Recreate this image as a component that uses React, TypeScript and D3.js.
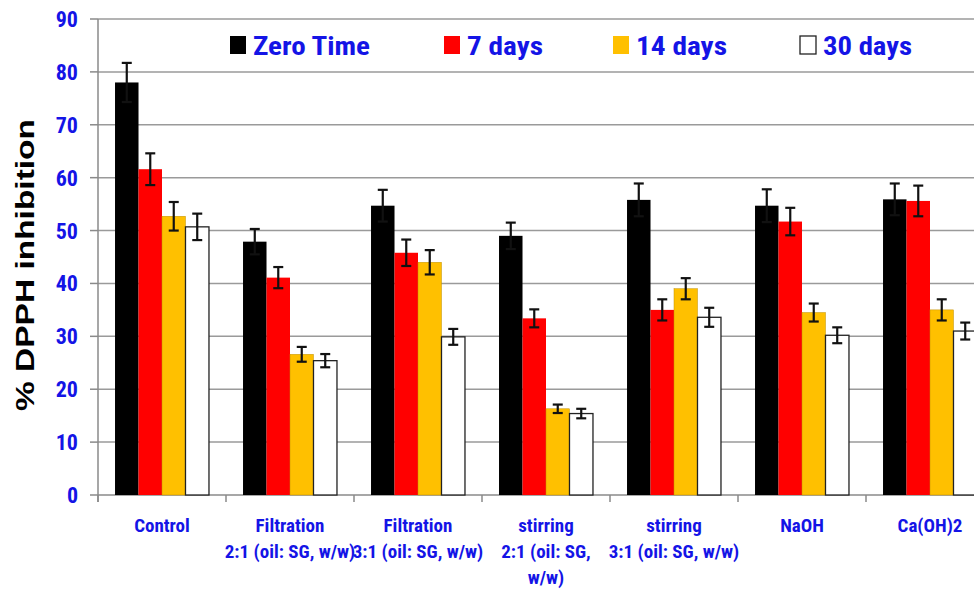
import React from "react";
import * as d3 from "d3";

const categories: string[][] = [
  ["Control"],
  ["Filtration", "2:1 (oil: SG, w/w)"],
  ["Filtration", "3:1 (oil: SG, w/w)"],
  ["stirring", "2:1 (oil: SG,", "w/w)"],
  ["stirring", "3:1 (oil: SG, w/w)"],
  ["NaOH"],
  ["Ca(OH)2"],
];
const seriesNames = ["Zero Time", "7 days", "14 days", "30 days"];
const seriesColors = ["#000000", "#FF0000", "#FFC000", "#FFFFFF"];
const zeroTime = [78, 47.9, 54.7, 49.0, 55.8, 54.7, 55.9];
const zeroTimeErr = [3.7, 2.4, 3.0, 2.5, 3.1, 3.1, 3.0];
const days7 = [61.6, 41.1, 45.8, 33.4, 35.0, 51.7, 55.6];
const days7Err = [3.0, 2.0, 2.5, 1.7, 2.0, 2.6, 2.9];
const days14 = [52.7, 26.6, 44.0, 16.3, 39.0, 34.5, 35.0];
const days14Err = [2.7, 1.4, 2.3, 0.8, 2.0, 1.7, 2.0];
const days30 = [50.7, 25.4, 29.9, 15.4, 33.6, 30.2, 31.0];
const days30Err = [2.5, 1.25, 1.5, 0.9, 1.8, 1.5, 1.6];
const yTicks = [0, 10, 20, 30, 40, 50, 60, 70, 80, 90];

const values = [zeroTime, days7, days14, days30];
const errors = [zeroTimeErr, days7Err, days14Err, days30Err];

const W = 974;
const H = 590;
const narrow = "'Liberation Sans Narrow', 'Arial Narrow', 'Roboto Condensed', 'Liberation Sans', Arial, sans-serif";

export default function App() {
  const left = 98;
  const right = 994;
  const y = d3.scaleLinear().domain([0, 90]).range([495, 19]);
  const x0 = d3.scaleBand<number>().domain(d3.range(categories.length)).range([left, right]).padding(0);
  const bw = x0.bandwidth();
  const x1 = d3.scaleBand<number>().domain(d3.range(4)).range([bw * 0.133, bw * 0.867]).padding(0);

  const legendItems = [
    { sx: 230, tx: 253, tw: 117 },
    { sx: 444, tx: 467, tw: 76 },
    { sx: 613, tx: 636, tw: 91 },
    { sx: 800, tx: 823, tw: 89 },
  ];

  return (
    <svg width={W} height={H} style={{ position: "absolute", left: 0, top: 0, background: "#fff" }}>
      {/* gridlines */}
      {yTicks.map((t) => (
        <g key={t}>
          {t > 0 && <line x1={left} x2={W} y1={y(t)} y2={y(t)} stroke="#9a9a9a" strokeWidth={1.5} />}
          <line x1={90} x2={left} y1={y(t)} y2={y(t)} stroke="#8a8a8a" strokeWidth={1.5} />
          <text x={78} y={y(t) + 8} textAnchor="end" fill="#1414e6" fontFamily={narrow} fontWeight="bold" fontSize={22}>
            {t}
          </text>
        </g>
      ))}
      {/* axes */}
      <line x1={left} x2={left} y1={y(90)} y2={y(0) + 7} stroke="#8a8a8a" strokeWidth={1.5} />
      <line x1={left} x2={W} y1={y(0)} y2={y(0)} stroke="#8a8a8a" strokeWidth={1.5} />
      {d3.range(categories.length + 1).map((i) => (
        <line key={i} x1={left + i * bw} x2={left + i * bw} y1={y(0)} y2={y(0) + 7} stroke="#8a8a8a" strokeWidth={1.5} />
      ))}
      {/* bars */}
      {categories.map((_, ci) => (
        <g key={ci} transform={`translate(${x0(ci)},0)`}>
          {values.map((vals, si) => (
            <rect
              key={si}
              x={x1(si)}
              y={y(vals[ci])}
              width={x1.bandwidth()}
              height={y(0) - y(vals[ci])}
              fill={seriesColors[si]}
              stroke={si === 3 ? "#222" : si === 2 ? "#c09000" : "none"}
              strokeWidth={si === 3 ? 1.3 : 0.5}
            />
          ))}
          {values.map((vals, si) => {
            const cx = (x1(si) as number) + x1.bandwidth() / 2;
            const v = vals[ci];
            const e = errors[si][ci];
            return (
              <g key={"e" + si} stroke="#111" strokeWidth={2.2}>
                <line x1={cx} x2={cx} y1={y(v + e)} y2={y(v - e)} />
                <line x1={cx - 5} x2={cx + 5} y1={y(v + e)} y2={y(v + e)} />
                <line x1={cx - 5} x2={cx + 5} y1={y(v - e)} y2={y(v - e)} />
              </g>
            );
          })}
        </g>
      ))}
      {/* x labels */}
      {categories.map((lines, ci) => (
        <text key={ci} textAnchor="middle" fill="#1414e6" fontFamily={narrow} fontWeight="bold" fontSize={19}>
          {lines.map((ln, li) => (
            <tspan key={li} x={(x0(ci) as number) + bw / 2} y={532 + li * 26}>
              {ln}
            </tspan>
          ))}
        </text>
      ))}
      {/* y title */}
      <text
        transform={`translate(34,265) rotate(-90)`}
        textAnchor="middle"
        fill="#000"
        fontFamily="'Liberation Sans', Arial, sans-serif"
        fontWeight="bold"
        fontSize={25}
        textLength={292}
        lengthAdjust="spacingAndGlyphs"
      >
        % DPPH inhibition
      </text>
      {/* legend */}
      {legendItems.map((it, i) => (
        <g key={i}>
          <rect
            x={it.sx}
            y={36}
            width={16}
            height={18}
            fill={seriesColors[i]}
            stroke={i === 3 ? "#222" : "none"}
            strokeWidth={1.3}
          />
          <text
            x={it.tx}
            y={55}
            fill="#1414e6"
            fontFamily={narrow}
            fontWeight="bold"
            fontSize={26}
            textLength={it.tw}
            lengthAdjust="spacingAndGlyphs"
          >
            {seriesNames[i]}
          </text>
        </g>
      ))}
    </svg>
  );
}
